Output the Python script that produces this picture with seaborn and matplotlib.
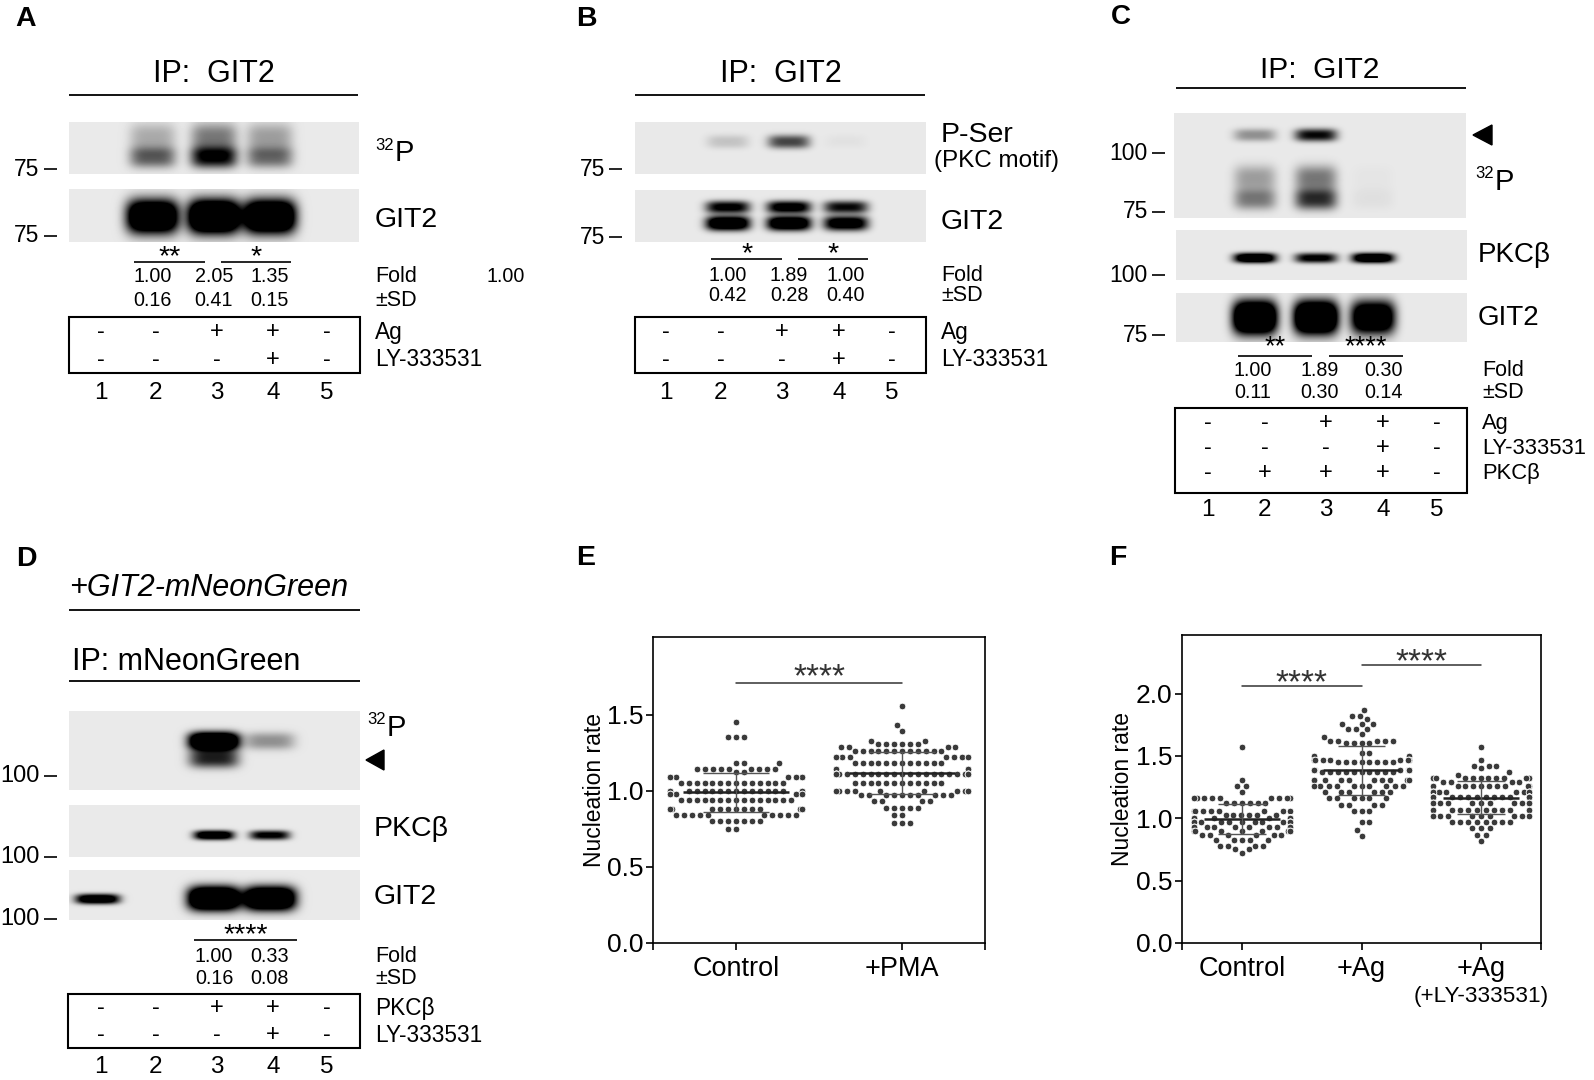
import numpy as np
import pandas as pd
import matplotlib
matplotlib.use('Agg')
import matplotlib.pyplot as plt
from matplotlib.patches import Polygon, Rectangle
import seaborn as sns

# ---------------- data ----------------
lane_numbers = ['1', '2', '3', '4', '5']

# panel A : 32P / GIT2 (per-lane band strength)
a_p32_upper = [0.0, 0.25, 0.45, 0.30, 0.0]
a_p32_lower = [0.0, 0.55, 0.95, 0.50, 0.0]
a_git2 = [0.0, 1.7, 1.9, 1.8, 0.0]
a_fold = ['1.00', '2.05', '1.35']
a_sd = ['0.16', '0.41', '0.15']
a_ag = ['-', '-', '+', '+', '-']
a_ly = ['-', '-', '-', '+', '-']

# panel B : P-Ser (PKC motif) / GIT2
b_pser = [0.0, 0.15, 0.65, 0.03, 0.0]
b_git2_top = [0.0, 1.0, 1.1, 0.9, 0.0]
b_git2_bot = [0.0, 1.4, 1.4, 1.2, 0.0]
b_fold = ['1.00', '1.89', '1.00']
b_sd = ['0.42', '0.28', '0.40']
b_ag = ['-', '-', '+', '+', '-']
b_ly = ['-', '-', '-', '+', '-']

# panel C : 32P / PKCb / GIT2
c_p32_top = [0.0, 0.35, 0.90, 0.0, 0.0]
c_p32_mid = [0.0, 0.30, 0.45, 0.02, 0.0]
c_p32_low = [0.0, 0.45, 0.75, 0.04, 0.0]
c_pkc = [0.0, 1.4, 1.0, 1.4, 0.0]
c_git2 = [0.0, 1.9, 1.9, 1.5, 0.0]
c_fold = ['1.00', '1.89', '0.30']
c_sd = ['0.11', '0.30', '0.14']
c_ag = ['-', '-', '+', '+', '-']
c_ly = ['-', '-', '-', '+', '-']
c_pkc_row = ['-', '+', '+', '+', '-']

# panel D : 32P / PKCb / GIT2 (mNeonGreen IP)
d_p32_main = [0.0, 0.0, 1.9, 0.35, 0.0]
d_p32_low = [0.0, 0.0, 0.8, 0.0, 0.0]
d_pkc = [0.0, 0.0, 1.3, 1.0, 0.0]
d_git2_thin = [1.3, 0.0, 0.0, 0.0, 0.0]
d_git2 = [0.0, 0.0, 1.9, 1.8, 0.0]
d_fold = ['1.00', '0.33']
d_sd = ['0.16', '0.08']
d_pkc_row = ['-', '-', '+', '+', '-']
d_ly = ['-', '-', '-', '+', '-']

# panel E : nucleation rate (value levels and number of cells at each level)
e_control_levels = [1.45, 1.35, 1.18, 1.14, 1.12, 1.09, 1.05, 1.00, 0.98, 0.94, 0.88, 0.84, 0.80, 0.75]
e_control_counts = [1, 3, 3, 9, 2, 10, 14, 20, 6, 15, 15, 10, 7, 2]
e_pma_levels = [1.56, 1.43, 1.39, 1.33, 1.31, 1.29, 1.26, 1.22, 1.18, 1.14, 1.11, 1.05, 1.00, 0.97, 0.93, 0.89, 0.84, 0.79]
e_pma_counts = [1, 1, 1, 2, 6, 4, 12, 8, 12, 14, 28, 12, 10, 10, 4, 5, 2, 3]
e_groups = ['Control', '+PMA']

# panel F
f_control_levels = [1.57, 1.31, 1.26, 1.21, 1.16, 1.12, 1.06, 1.03, 1.00, 0.97, 0.93, 0.90, 0.87, 0.83, 0.78, 0.75, 0.72]
f_control_counts = [1, 1, 2, 1, 10, 6, 8, 6, 28, 18, 12, 8, 6, 5, 4, 2, 1]
f_ag_levels = [1.87, 1.82, 1.80, 1.76, 1.72, 1.68, 1.65, 1.62, 1.60, 1.52, 1.50, 1.47, 1.45, 1.39, 1.37,
               1.31, 1.26, 1.21, 1.16, 1.11, 1.06, 0.97, 0.91, 0.86]
f_ag_counts = [1, 2, 1, 3, 3, 1, 1, 5, 4, 2, 2, 8, 8, 24, 10, 10, 10, 6, 6, 4, 3, 2, 1, 1]
f_ly_levels = [1.57, 1.47, 1.42, 1.40, 1.37, 1.35, 1.32, 1.29, 1.26, 1.21, 1.17, 1.12, 1.07, 1.02, 0.97, 0.92, 0.87, 0.82]
f_ly_counts = [1, 1, 3, 1, 1, 1, 12, 4, 10, 14, 28, 14, 10, 10, 8, 3, 2, 1]
f_groups = ['Control', '+Ag', '+Ag']

# ---------------- style ----------------
sns.set_theme(style='white')
plt.rcParams['font.family'] = ['Liberation Sans', 'DejaVu Sans']
plt.rcParams['axes.linewidth'] = 1.2

W, H = 1594, 1080
fig = plt.figure(figsize=(W / 100, H / 100), dpi=100)
ov = fig.add_axes([0, 0, 1, 1])
ov.set_axis_off()
ov.patch.set_alpha(0)

DOT = '#3a3a3a'
LINE = '#222222'
HEAD = 22
LAB = 20.5


def txt(x, y, s, size=14.2, ha='center', va='center', **kw):
    ov.text(x, y, s, fontsize=size, ha=ha, va=va, color='black', **kw)


def hline(x0, x1, y, lw=1.3):
    ov.plot([x0, x1], [y, y], color='black', lw=lw, solid_capstyle='butt')


def blot(x0, x1, y0, y1, lane_x, layers, bg=0.915):
    xs = np.arange(x0, x1) + 0.5
    ys = np.arange(y0, y1) + 0.5
    X, Y = np.meshgrid(xs, ys)
    dark = np.zeros_like(X)
    for amps, yc, hh, ww in layers:
        for lx, a in zip(lane_x, amps):
            if a <= 0:
                continue
            cy = y0 + yc * (y1 - y0)
            hy = hh * (y1 - y0)
            dark += a * np.exp(-np.abs((X - lx) / ww) ** 4) * np.exp(-np.abs((Y - cy) / hy) ** 2.5)
    img = np.clip(bg - dark, 0, 1)
    ov.imshow(img, extent=[x0, x1, y1, y0], cmap='gray', vmin=0, vmax=1,
              aspect='auto', interpolation='bilinear', zorder=1)


def markers(items, xr, size=16.5):
    for lab, y in items:
        txt(xr, y, lab, size=size, ha='right')
        hline(xr + 4, xr + 17, y, lw=1.2)


def p32(x, y):
    txt(x, y - 8, '32', size=12, ha='left')
    txt(x + 20, y, 'P', size=21, ha='left')


def arrow(x0, x1, y, h=10):
    ov.add_patch(Polygon([[x0, y], [x1, y - h], [x1, y + h]], closed=True, color='black'))


def fold_rows(xs, fold, sd, y_f, y_s, x_lab):
    for x, f, s in zip(xs, fold, sd):
        txt(x, y_f, f)
        txt(x, y_s, s)
    txt(x_lab, y_f, 'Fold', size=15.5, ha='left')
    txt(x_lab, y_s, '±SD', size=15.5, ha='left')


def cond_box(x0, x1, y0, y1, lane_x, rows, row_y, labels, x_lab, num_y, lab_size=16.3):
    ov.add_patch(Rectangle((x0, y0), x1 - x0, y1 - y0, fill=False, lw=1.5, ec='black'))
    for r, yy, lab in zip(rows, row_y, labels):
        for lx, s in zip(lane_x, r):
            txt(lx, yy, s, size=17)
        txt(x_lab, yy, lab, size=lab_size, ha='left')
    for lx, n in zip(lane_x, lane_numbers):
        txt(lx, num_y, n, size=17.5)


def sig(x0, x1, y, stars, size=20.5, lift=2):
    hline(x0, x1, y, lw=1.2)
    txt((x0 + x1) / 2, y + lift, stars, size=size, va='baseline')


# ---------------- panel A ----------------
laneA = np.array([100.6, 155.7, 217, 272.8, 327])
txt(26, 19, 'A', size=20.5, fontweight='bold')
txt(214, 74, 'IP:  GIT2', size=HEAD)
hline(69, 358, 94.7)
blot(69, 359, 122, 174, laneA - 3, [(a_p32_upper, 0.3, 0.28, 23), (a_p32_lower, 0.68, 0.2, 23)])
blot(69, 359, 189, 242, laneA - 3, [(a_git2, 0.52, 0.32, 26)])
markers([('75', 169), ('75', 236)], 39.6)
p32(375, 153)
txt(375, 220, 'GIT2', size=LAB, ha='left')
sig(134, 205, 262, '**')
sig(221, 291, 262, '*')
fold_rows(laneA[1:4] - 3, a_fold, a_sd, 277, 300, 375)
txt(506, 277, '1.00')
cond_box(69, 360.5, 317, 373, laneA, [a_ag, a_ly], [332, 360], ['Ag', 'LY-333531'], 375, 393)

# ---------------- panel B ----------------
laneB = np.array([666, 721, 782, 839, 892])
txt(586.5, 19, 'B', size=20.5, fontweight='bold')
txt(781, 74, 'IP:  GIT2', size=HEAD)
hline(635, 925, 94.7)
blot(635, 926, 122, 174, laneB + 7, [(b_pser, 0.38, 0.13, 21)])
blot(635, 926, 190, 242, laneB + 7, [(b_git2_top, 0.33, 0.12, 22), (b_git2_bot, 0.64, 0.14, 22)])
markers([('75', 169), ('75', 237)], 605)
txt(941, 135, 'P-Ser', size=LAB, ha='left')
txt(934, 161, '(PKC motif)', size=17.5, ha='left')
txt(941, 222, 'GIT2', size=LAB, ha='left')
sig(711.5, 782, 259, '*')
sig(798, 868, 259, '*')
fold_rows(laneB[1:4] + 7, b_fold, b_sd, 275.5, 295.5, 941)
cond_box(635, 926, 317, 373, laneB, [b_ag, b_ly], [332, 360], ['Ag', 'LY-333531'], 941, 393)

# ---------------- panel C ----------------
laneC = np.array([1208, 1265, 1326, 1383, 1437])
txt(1121, 17, 'C', size=20, fontweight='bold')
txt(1320, 70, 'IP:  GIT2', size=21.5)
hline(1176, 1466, 88)
blot(1174, 1466, 113, 218, laneC - 10,
     [(c_p32_top, 0.21, 0.06, 21), (c_p32_mid, 0.62, 0.12, 21), (c_p32_low, 0.82, 0.1, 21)])
blot(1176, 1467, 230, 280, laneC - 10, [(c_pkc, 0.56, 0.1, 21)])
blot(1176, 1467, 293, 342, laneC - 10, [(c_git2, 0.5, 0.34, 22)])
markers([('100', 153), ('75', 212), ('100', 275), ('75', 335)], 1148, size=16.5)
arrow(1473, 1492, 135)
p32(1475, 182)
txt(1478, 255, 'PKCβ', size=20, ha='left')
txt(1478, 318, 'GIT2', size=20, ha='left')
sig(1238, 1312, 356, '**', size=19.5, lift=-2)
sig(1329, 1403, 356, '****', size=19.5, lift=-2)
fold_rows(laneC[1:4] + np.array([-12, -6, 1]), c_fold, c_sd, 371, 393, 1482)
cond_box(1175, 1467, 408, 493, laneC, [c_ag, c_ly, c_pkc_row], [423, 448, 473],
         ['Ag', 'LY-333531', 'PKCβ'], 1482, 510, lab_size=15.8)

# ---------------- panel D ----------------
laneD = laneA
txt(26, 559, 'D', size=20.5, fontweight='bold')
txt(69, 588, '+GIT2-mNeonGreen', size=HEAD, ha='left', style='italic')
hline(69, 360.5, 610)
txt(72, 662, 'IP: mNeonGreen', size=HEAD, ha='left')
hline(69, 360.5, 680.5)
blot(69, 360, 711, 790, laneD - 3, [(d_p32_main, 0.38, 0.11, 25), (d_p32_low, 0.6, 0.12, 25)])
blot(69, 360, 805, 857, laneD - 3, [(d_pkc, 0.58, 0.09, 20)])
blot(69, 360, 870, 920, laneD - 3, [(d_git2_thin, 0.58, 0.1, 22), (d_git2, 0.57, 0.24, 26)])
markers([('100', 776), ('100', 857), ('100', 919)], 39.6, size=17)
p32(367, 727.7)
arrow(366, 384, 760)
txt(374, 829, 'PKCβ', size=LAB, ha='left')
txt(374, 896.5, 'GIT2', size=LAB, ha='left')
sig(194, 297, 940, '****')
fold_rows(laneD[2:4] - 3, d_fold, d_sd, 956, 978, 375)
cond_box(68, 360, 994, 1048, laneD, [d_pkc_row, d_ly], [1008, 1035], ['PKCβ', 'LY-333531'], 375, 1067)

txt(586, 558, 'E', size=20.5, fontweight='bold')
txt(1118, 558, 'F', size=20.5, fontweight='bold')

ov.set_xlim(0, W)
ov.set_ylim(H, 0)


# ---------------- panels E and F ----------------
def long_df(levels, counts):
    parts = []
    for i, (lv, ct) in enumerate(zip(levels, counts)):
        parts.append(pd.DataFrame({'pos': i, 'rate': np.repeat(lv, ct)}))
    return pd.concat(parts, ignore_index=True)


def dot_axes(px_box, df, n, ymax, yticks):
    l, t, r, b = px_box
    ax = fig.add_axes([l / W, 1 - b / H, (r - l) / W, (b - t) / H])
    sns.swarmplot(data=df, x='pos', y='rate', color=DOT, size=4.8, linewidth=0.6,
                  edgecolor='white', warn_thresh=1, ax=ax, zorder=2)
    for i in range(n):
        v = df.loc[df['pos'] == i, 'rate']
        m, s = v.mean(), v.std()
        ax.hlines(m, i - 0.32, i + 0.32, color=LINE, lw=1.8, zorder=3)
        ax.vlines(i, m - s, m + s, color='#555555', lw=1.0, zorder=3)
        ax.hlines([m - s, m + s], i - 0.2, i + 0.2, color='#555555', lw=1.0, zorder=3)
    ax.set_xlim(-0.5, n - 0.5)
    ax.set_ylim(0, ymax)
    ax.set_yticks(yticks)
    ax.set_yticklabels([f'{y:.1f}' for y in yticks])
    ax.set_xticks(range(n))
    ax.set_xticks([-0.5, n - 0.5], minor=True)
    for sp in ax.spines.values():
        sp.set_visible(True)
        sp.set_color('black')
        sp.set_linewidth(1.2)
    ax.tick_params(axis='both', which='both', direction='out', length=5, width=1.2,
                   colors='black', labelsize=19, pad=2, left=True, bottom=True)
    ax.tick_params(axis='x', labelsize=19.5, pad=4)
    ax.set_xlabel('')
    ax.set_ylabel('Nucleation rate', fontsize=16.5, color='black')
    return ax


def stars(ax, x0, x1, y, offset_pt):
    ax.plot([x0, x1], [y, y], color='#333333', lw=1.1)
    ax.annotate('****', xy=((x0 + x1) / 2, y), xytext=(0, offset_pt), textcoords='offset points',
                ha='center', va='baseline', fontsize=24, color='#333333')


e_df = long_df([e_control_levels, e_pma_levels], [e_control_counts, e_pma_counts])
axE = dot_axes((653, 637, 985, 943), e_df, 2, 2.01, [0.0, 0.5, 1.0, 1.5])
axE.set_xticklabels(e_groups)
axE.yaxis.set_label_coords(-0.142, 0.5)
stars(axE, 0, 1, 1.71, -2.7)

f_df = long_df([f_control_levels, f_ag_levels, f_ly_levels],
               [f_control_counts, f_ag_counts, f_ly_counts])
axF = dot_axes((1182, 635, 1541, 943), f_df, 3, 2.47, [0.0, 0.5, 1.0, 1.5, 2.0])
axF.set_xticklabels(f_groups)
axF.yaxis.set_label_coords(-0.134, 0.5)
axF.text(2, -0.175, '(+LY-333531)', transform=axF.get_xaxis_transform(), ha='center',
         va='center', fontsize=16.2, color='black')
stars(axF, 0, 1, 2.06, -4.7)
stars(axF, 1, 2, 2.23, -4.7)

fig.savefig('out.png', dpi=100)
